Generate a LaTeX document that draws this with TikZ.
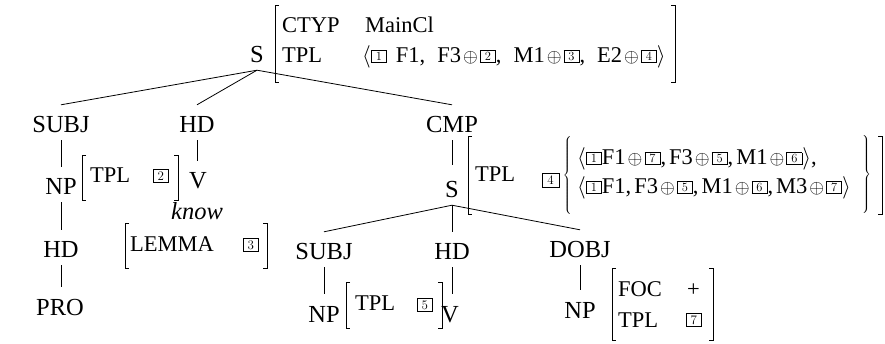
\RequirePackage{fix-cm}
\documentclass[tikz,border=0pt]{standalone}
\usepackage{fontspec}
\newfontfamily\tms{Liberation Serif}
\newcommand\treefont{\tms\fontsize{24.5}{28}\selectfont}
\newcommand\avmfont{\tms\fontsize{22.5}{26}\selectfont}
\newcommand\bx[1]{\raisebox{2.7pt}{\setlength\fboxsep{0pt}\setlength\fboxrule{0.75pt}\fbox{\makebox[14.5pt]{\rule[-2pt]{0pt}{11.4pt}\rmfamily\fontsize{12.5}{12.5}\selectfont #1}}}}
\newcommand\opl{{\fontsize{19}{19}\selectfont\kern2pt$\oplus$\kern2pt}}
\newcommand\cm{,\kern3pt}
\newcommand\avL{$\langle$}
\newcommand\avR{$\rangle$}
\newcommand\lbrk[3]{\draw[brk] (#1+4,#2) -- (#1,#2) -- (#1,#3) -- (#1+4,#3);}
\newcommand\rbrk[3]{\draw[brk] (#1-4,#2) -- (#1,#2) -- (#1,#3) -- (#1-4,#3);}
\tikzset{
  tree/.style={font=\treefont, inner sep=0pt, text height=28pt, text depth=7pt, anchor=base},
  avm/.style={font=\avmfont, inner sep=0pt, anchor=base west},
  numbox/.style={draw, line width=0.75pt, inner sep=0pt, minimum width=15pt, minimum height=13pt,
    font=\rmfamily\fontsize{13}{13}\selectfont, anchor=south west},
  edge/.style={line width=0.8pt},
  brk/.style={line width=0.9pt},
  brace/.style={font=\fontsize{30}{30}\selectfont, inner sep=0pt}
}
\begin{document}
\begin{tikzpicture}[x=1pt,y=-1pt]
\useasboundingbox (0,0) rectangle (885,344);
% tree labels
\node[tree] (S0) at (257,63) {S};
\node[tree] (SUBJa) at (61,133) {SUBJ};
\node[tree] (HDa) at (197,133) {HD};
\node[tree] (CMP) at (452,133) {CMP};
\node[tree] (NPa) at (61,195) {NP};
\node[tree] (Va) at (198,189) {V};
\node[font=\treefont\itshape, inner sep=0pt, anchor=base] (know) at (197,220) {know};
\node[tree] (HDb) at (61,258) {HD};
\node[tree] (PRO) at (60,315) {PRO};
\node[tree, text height=33pt] (S1) at (452,198) {S};
\node[tree] (SUBJb) at (324,260) {SUBJ};
\node[tree] (HDc) at (452,260) {HD};
\node[tree] (DOBJ) at (580,258) {DOBJ};
\node[tree] (NPb) at (324,322) {NP};
\node[tree] (Vb) at (450,322) {V};
\node[tree] (NPc) at (580,318) {NP};
% edges
\draw[edge] (S0.south) -- (SUBJa.north);
\draw[edge] (S0.south) -- (HDa.north);
\draw[edge] (S0.south) -- (CMP.north);
\draw[edge] (SUBJa.south) -- (NPa.north);
\draw[edge] (NPa.south) -- (HDb.north);
\draw[edge] (HDb.south) -- (HDb.south |- PRO.north);
\draw[edge] (HDa.south) -- (HDa.south |- Va.north);
\draw[edge] (CMP.south) -- (S1.north);
\draw[edge] (S1.south) -- (SUBJb.north);
\draw[edge] (S1.south) -- (HDc.north);
\draw[edge] (S1.south) -- (DOBJ.north);
\draw[edge] (SUBJb.south) -- (NPb.north);
\draw[edge] (HDc.south) -- (HDc.south |- Vb.north);
\draw[edge] (DOBJ.south) -- (NPc.north);
% top AVM
\lbrk{275}{5}{82}
\rbrk{675}{5}{82}
\node[avm] (ctyp) at (282,33) {CTYP};
\node[avm] (mcl) at (365,33) {MainCl};
\node[avm] (tplA) at (282,63) {TPL};
\node[avm] (valA) at (362,63) {\avL\bx{1}\hspace{9pt}F1,\hspace{12pt}F3\opl\bx{2},\hspace{12pt}M1\opl\bx{3},\hspace{12pt}E2\opl\bx{4}\avR};
% NP AVM (subject)
\lbrk{82}{155}{200}
\rbrk{178}{155}{200}
\node[avm] (tplB) at (90,183) {TPL};
\node[numbox] (b2) at (153,183) {2};
% LEMMA AVM
\lbrk{125}{223}{268}
\rbrk{267}{223}{268}
\node[avm] (lemma) at (130,252) {LEMMA};
\node[numbox] (b3) at (243,252) {3};
% CMP AVM
\lbrk{468}{136}{214}
\rbrk{882}{136}{214}
\node[avm] (tplC) at (475,182) {TPL};
\node[numbox, minimum width=16.5pt, minimum height=14.5pt] (b4) at (542,188) {4};
\node[brace] (brL) at (568,176) {$\left\{\vcenter{\hrule height 78pt width 0pt}\right.$};
\node[avm] (rowA) at (577,165) {\avL\bx{1}F1\opl\bx{7}\cm F3\opl\bx{5}\cm M1\opl\bx{6}\avR,};
\node[avm] (rowB) at (577,194) {\avL\bx{1}F1\cm F3\opl\bx{5}\cm M1\opl\bx{6}\cm M3\opl\bx{7}\avR};
\node[brace] (brR) at (866,175) {$\left.\vcenter{\hrule height 78pt width 0pt}\right\}$};
% NP AVM (lower subject)
\lbrk{346}{282}{328}
\rbrk{442}{282}{328}
\node[avm] (tplD) at (355,310) {TPL};
\node[numbox] (b5) at (417,312) {5};
% DOBJ AVM
\lbrk{612}{268}{340}
\rbrk{713}{268}{340}
\node[avm] (foc) at (618,297) {FOC};
\node[avm] (plus) at (687,297) {+};
\node[avm] (tplE) at (618,327) {TPL};
\node[numbox] (b7) at (686,327) {7};
\end{tikzpicture}
\end{document}
